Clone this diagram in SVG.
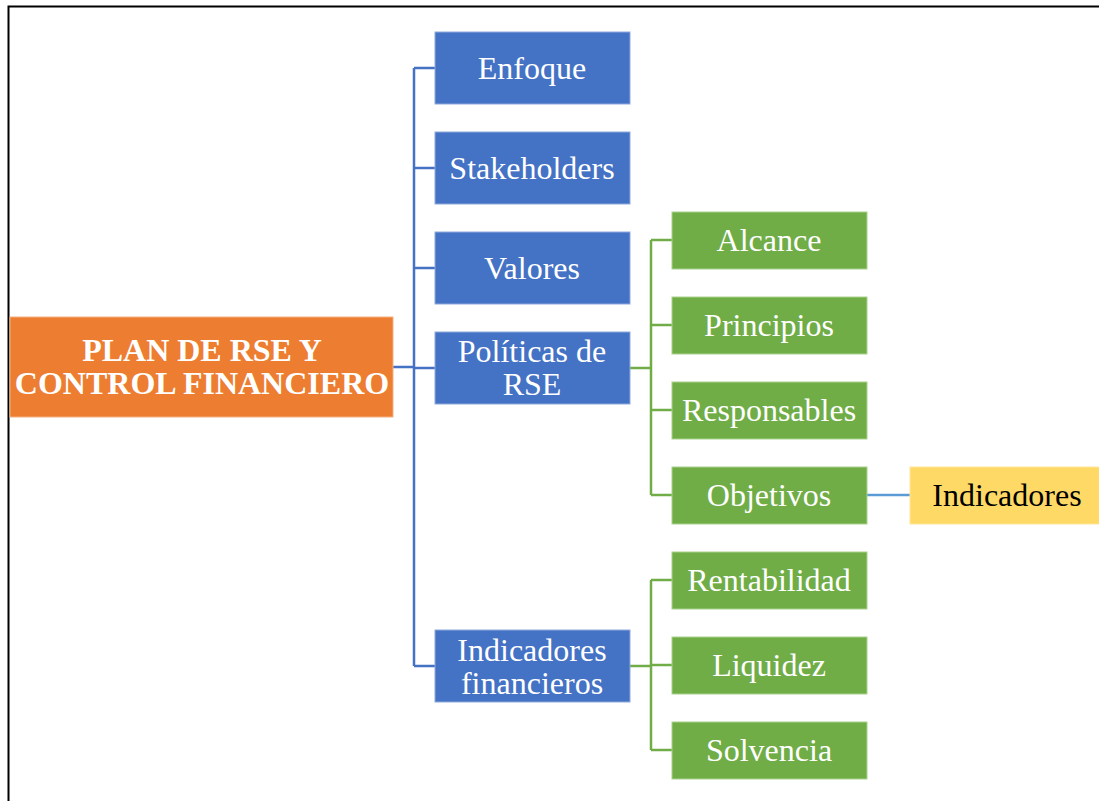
<svg xmlns="http://www.w3.org/2000/svg" width="1099" height="801" viewBox="0 0 1099 801">
<style>
.t{font-family:"Liberation Serif","Times New Roman",serif;font-size:32px;fill:#fff;text-anchor:middle}
.b{font-weight:bold}
.k{fill:#000}
.blue{fill:#4472C4;stroke:#8FAADC;stroke-width:1}
.green{fill:#70AD47;stroke:#A9D18E;stroke-width:1}
.orange{fill:#ED7D31;stroke:#F4B183;stroke-width:1}
.yellow{fill:#FFD966;stroke:#FFE699;stroke-width:1}
.cb{fill:none;stroke:#4472C4;stroke-width:2.5}
.cg{fill:none;stroke:#70AD47;stroke-width:2.5}
.cl{fill:none;stroke:#5B9BD5;stroke-width:2.5}
</style>
<rect width="1099" height="801" fill="#fff"/>
<path d="M8.5 801 V6.5 H1099" fill="none" stroke="#000" stroke-width="2"/>
<g id="connectors">
<path class="cb" d="M393 367 H414 M414 68 V666 M414 68 H435 M414 168 H435 M414 268 H435 M414 368 H435 M414 666 H435"/>
<path class="cg" d="M630 368 H651 M651 240 V495 M651 240 H672 M651 325 H672 M651 410 H672 M651 495 H672"/>
<path class="cg" d="M630 666 H651 M651 580 V750 M651 580 H672 M651 665 H672 M651 750 H672"/>
<path class="cl" d="M867 495 H910"/>
</g>
<g id="root"><rect class="orange" x="10" y="317" width="383" height="100"/><text class="t b" x="202" y="361">PLAN DE RSE Y</text><text class="t b" x="202" y="394">CONTROL FINANCIERO</text></g>
<g id="enfoque"><rect class="blue" x="435" y="32" width="195" height="72"/><text class="t" x="532" y="79">Enfoque</text></g>
<g id="stakeholders"><rect class="blue" x="435" y="132" width="195" height="72"/><text class="t" x="532" y="179">Stakeholders</text></g>
<g id="valores"><rect class="blue" x="435" y="232" width="195" height="72"/><text class="t" x="532" y="279">Valores</text></g>
<g id="politicas"><rect class="blue" x="435" y="332" width="195" height="72"/><text class="t" x="532" y="362">Políticas de</text><text class="t" x="532" y="395">RSE</text></g>
<g id="indfin"><rect class="blue" x="435" y="630" width="195" height="72"/><text class="t" x="532" y="661">Indicadores</text><text class="t" x="532" y="694">financieros</text></g>
<g id="alcance"><rect class="green" x="672" y="212" width="195" height="57"/><text class="t" x="769" y="251">Alcance</text></g>
<g id="principios"><rect class="green" x="672" y="297" width="195" height="57"/><text class="t" x="769" y="336">Principios</text></g>
<g id="responsables"><rect class="green" x="672" y="382" width="195" height="57"/><text class="t" x="769" y="421">Responsables</text></g>
<g id="objetivos"><rect class="green" x="672" y="467" width="195" height="57"/><text class="t" x="769" y="506">Objetivos</text></g>
<g id="rentabilidad"><rect class="green" x="672" y="552" width="195" height="57"/><text class="t" x="769" y="591">Rentabilidad</text></g>
<g id="liquidez"><rect class="green" x="672" y="637" width="195" height="57"/><text class="t" x="769" y="676">Liquidez</text></g>
<g id="solvencia"><rect class="green" x="672" y="722" width="195" height="57"/><text class="t" x="769" y="761">Solvencia</text></g>
<g id="indicadores"><rect class="yellow" x="910" y="467" width="195" height="57"/><text class="t k" x="1007" y="506">Indicadores</text></g>
</svg>
